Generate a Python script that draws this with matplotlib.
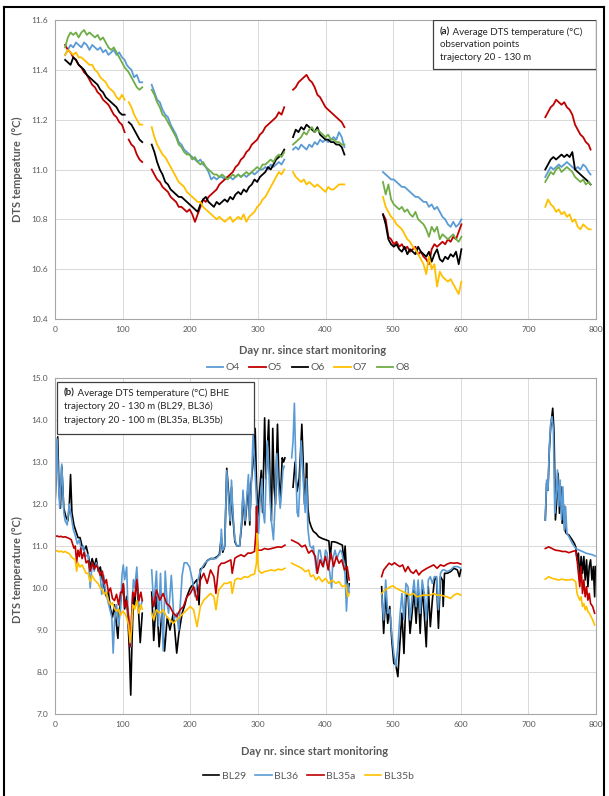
import numpy as np
import matplotlib
matplotlib.use("Agg")
import matplotlib.pyplot as plt
from matplotlib.lines import Line2D
from matplotlib.patches import Rectangle

plt.rcParams['font.family'] = ['Lato', 'DejaVu Sans']

# ---------------- Panel (a) data: observation points ----------------
days_a_segments = [
    np.r_[np.arange(15, 104, 4), 106, np.arange(109, 130, 4)],
    np.arange(143, 340, 4),
    np.arange(352, 429, 4),
    np.arange(485, 602, 4),
    np.r_[np.arange(725, 790, 4), 792],
]
nan = np.nan
o4 = [
    [11.46, 11.48, 11.50, 11.49, 11.51, 11.50, 11.49, 11.51, 11.50, 11.48, 11.50, 11.49, 11.48, 11.49, 11.47, 11.48,
     11.46, 11.47, 11.48, 11.46, 11.47, 11.45, 11.44, 11.42, 11.41, 11.40, 11.37, 11.38, 11.35, 11.35],
    [11.34, 11.31, 11.28, 11.27, 11.24, 11.22, 11.21, 11.18, 11.16, 11.14, 11.11, 11.10, 11.08, 11.07, 11.06, 11.05,
     11.04, 11.03, 11.04, 11.02, 11.01, 10.99, 10.96, 10.97, 10.96, 10.97, 10.97, 10.96, 10.97, 10.97, 10.96, 10.97,
     10.98, 10.97, 10.98, 10.97, 10.98, 10.99, 10.98, 10.99, 11.00, 11.00, 11.01, 11.00, 11.02, 11.01, 11.02, 11.03,
     11.02, 11.04],
    [11.08, 11.09, 11.08, 11.10, 11.09, 11.08, 11.10, 11.09, 11.11, 11.10, 11.12, 11.11, 11.12, 11.11, 11.12, 11.13,
     11.12, 11.15, 11.13, 11.09],
    [10.99, 10.98, 10.97, 10.96, 10.96, 10.95, 10.94, 10.93, 10.93, 10.92, 10.91, 10.90, 10.89, 10.89, 10.88, 10.87,
     10.87, 10.85, 10.86, 10.84, 10.85, 10.83, 10.81, 10.80, 10.78, 10.77, 10.79, 10.77, 10.78, 10.80],
    [10.97, 10.99, 11.01, 11.00, 11.01, 11.02, 11.01, 11.02, 11.03, 11.02, 11.01, 11.00, 11.01, 11.00, 11.02, 11.01,
     10.99, 10.98],
]
o5 = [
    [11.50, 11.48, 11.47, 11.45, 11.44, 11.42, 11.41, 11.39, 11.38, 11.36, 11.34, 11.33, 11.31, 11.30, 11.28, 11.27,
     11.26, 11.24, 11.22, 11.21, 11.19, 11.18, 11.15, nan, 11.12, 11.10, 11.09, 11.06, 11.04, 11.03],
    [11.00, 10.98, 10.96, 10.95, 10.93, 10.92, 10.91, 10.89, 10.88, 10.87, 10.85, 10.85, 10.84, 10.83, 10.84, 10.82,
     10.79, 10.82, 10.85, 10.88, 10.87, 10.89, 10.90, 10.91, 10.92, 10.94, 10.95, 10.96, 10.97, 10.98, 10.99, 11.01,
     11.02, 11.04, 11.05, 11.07, 11.08, 11.10, 11.11, 11.12, 11.14, 11.15, 11.17, 11.18, 11.19, 11.20, 11.21, 11.23,
     11.22, 11.25],
    [11.32, 11.33, 11.35, 11.36, 11.37, 11.38, 11.36, 11.35, 11.33, 11.30, 11.29, 11.27, 11.25, 11.24, 11.23, 11.22,
     11.21, 11.20, 11.19, 11.17],
    [10.82, 10.80, 10.73, 10.72, 10.70, 10.71, 10.69, 10.70, 10.68, 10.69, 10.67, 10.68, 10.69, 10.66, 10.67, 10.65,
     10.64, 10.62, 10.68, 10.70, 10.69, 10.70, 10.71, 10.70, 10.72, 10.71, 10.73, 10.72, 10.75, 10.78],
    [11.21, 11.23, 11.25, 11.26, 11.28, 11.27, 11.26, 11.27, 11.25, 11.24, 11.22, 11.18, 11.16, 11.14, 11.13, 11.11,
     11.10, 11.08],
]
o6 = [
    [11.44, 11.43, 11.42, 11.45, 11.44, 11.42, 11.41, 11.40, 11.38, 11.37, 11.36, 11.35, 11.34, 11.32, 11.31, 11.29,
     11.28, 11.27, 11.26, 11.25, 11.23, 11.22, 11.22, nan, 11.19, 11.18, 11.16, 11.14, 11.12, 11.11],
    [11.10, 11.07, 11.03, 11.00, 10.98, 10.95, 10.94, 10.92, 10.91, 10.90, 10.89, 10.89, 10.88, 10.87, 10.86, 10.85,
     10.84, 10.83, 10.86, 10.88, 10.89, 10.87, 10.86, 10.85, 10.87, 10.86, 10.87, 10.88, 10.87, 10.89, 10.88, 10.90,
     10.91, 10.90, 10.92, 10.91, 10.93, 10.94, 10.96, 10.95, 10.97, 10.98, 10.99, 11.01, 11.00, 11.02, 11.04, 11.05,
     11.06, 11.08],
    [11.13, 11.16, 11.15, 11.17, 11.16, 11.18, 11.17, 11.16, 11.15, 11.17, 11.14, 11.13, 11.12, 11.12, 11.11, 11.11,
     11.10, 11.10, 11.09, 11.06],
    [10.82, 10.78, 10.72, 10.70, 10.69, 10.70, 10.68, 10.67, 10.69, 10.66, 10.68, 10.67, 10.66, 10.69, 10.67, 10.66,
     10.65, 10.67, 10.63, 10.66, 10.68, 10.64, 10.63, 10.65, 10.64, 10.66, 10.65, 10.67, 10.62, 10.68],
    [11.00, 11.02, 11.04, 11.05, 11.04, 11.05, 11.06, 11.05, 11.06, 11.05, 11.07, 11.00, 10.99, 10.98, 10.97, 10.96,
     10.95, 10.94],
]
o7 = [
    [11.46, 11.48, 11.47, 11.46, 11.47, 11.45, 11.45, 11.44, 11.43, 11.42, 11.42, 11.40, 11.39, 11.37, 11.36, 11.35,
     11.33, 11.32, 11.31, 11.29, 11.28, 11.30, 11.28, nan, 11.27, 11.25, 11.22, 11.20, 11.18, 11.18],
    [11.17, 11.13, 11.10, 11.08, 11.06, 11.05, 11.03, 11.01, 10.99, 10.97, 10.95, 10.94, 10.93, 10.91, 10.90, 10.89,
     10.88, 10.87, 10.87, 10.85, 10.84, 10.83, 10.82, 10.81, 10.80, 10.81, 10.80, 10.79, 10.80, 10.81, 10.79, 10.80,
     10.81, 10.80, 10.82, 10.79, 10.81, 10.82, 10.83, 10.85, 10.86, 10.88, 10.89, 10.91, 10.93, 10.95, 10.97, 10.99,
     10.98, 11.00],
    [10.99, 10.97, 10.96, 10.95, 10.96, 10.94, 10.95, 10.94, 10.93, 10.94, 10.93, 10.92, 10.91, 10.93, 10.92, 10.92,
     10.93, 10.94, 10.94, 10.94],
    [10.89, 10.85, 10.83, 10.81, 10.80, 10.78, 10.77, 10.76, 10.74, 10.72, 10.71, 10.69, 10.68, 10.66, 10.64, 10.62,
     10.58, 10.65, 10.60, 10.62, 10.53, 10.59, 10.57, 10.56, 10.55, 10.56, 10.54, 10.52, 10.50, 10.55],
    [10.85, 10.88, 10.86, 10.85, 10.83, 10.84, 10.82, 10.83, 10.81, 10.82, 10.79, 10.80, 10.77, 10.76, 10.78, 10.77,
     10.76, 10.76],
]
o8 = [
    [11.49, 11.53, 11.55, 11.54, 11.55, 11.53, 11.55, 11.56, 11.54, 11.55, 11.54, 11.53, 11.54, 11.52, 11.53, 11.51,
     11.49, 11.48, 11.49, 11.47, 11.45, 11.43, 11.41, 11.40, 11.39, 11.37, 11.35, 11.33, 11.32, 11.33],
    [11.32, 11.30, 11.27, 11.25, 11.22, 11.21, 11.19, 11.17, 11.15, 11.13, 11.10, 11.09, 11.07, 11.06, 11.06, 11.04,
     11.05, 11.03, 11.02, 11.03, 11.01, 11.00, 10.99, 10.98, 10.98, 10.97, 10.98, 10.97, 10.96, 10.97, 10.98, 10.97,
     10.98, 10.97, 10.98, 10.99, 10.98, 10.99, 11.00, 11.01, 11.00, 11.02, 11.02, 11.03, 11.04, 11.03, 11.05, 11.06,
     11.05, 11.07],
    [11.10, 11.11, 11.12, 11.13, 11.15, 11.14, 11.16, 11.17, 11.15, 11.16, 11.15, 11.14, 11.13, 11.14, 11.12, 11.12,
     11.11, 11.11, 11.10, 11.10],
    [10.95, 10.90, 10.94, 10.88, 10.86, 10.85, 10.84, 10.85, 10.83, 10.84, 10.82, 10.81, 10.83, 10.80, 10.79, 10.78,
     10.76, 10.73, 10.77, 10.75, 10.77, 10.72, 10.74, 10.73, 10.72, 10.73, 10.74, 10.72, 10.71, 10.73],
    [10.95, 10.97, 10.99, 10.98, 11.00, 11.01, 10.99, 11.00, 11.01, 11.00, 10.99, 10.97, 10.96, 10.95, 10.96, 10.94,
     10.95, 10.94],
]
labels_a = ['O4', 'O5', 'O6', 'O7', 'O8']
colors_a = ['#5b9bd5', '#c00000', '#000000', '#ffc000', '#70ad47']

# ---------------- Panel (b) data: BHE (day, temperature) segments ----------------
bl29 = [
    [(0, 12.0), (2, 12.9), (4, 13.6), (6, 12.3), (8, 11.9), (10, 12.9), (13, 11.9), (16, 11.7), (19, 11.6), (21, 11.9),
     (23, 12.7), (25, 11.8), (28, 11.5), (31, 11.35), (34, 11.2), (37, 11.2), (40, 11.0), (43, 10.9), (46, 11.0),
     (49, 10.8), (52, 10.5), (55, 10.7), (58, 10.5), (61, 10.7), (64, 10.4), (67, 10.5), (70, 10.2), (73, 10.0),
     (76, 9.8), (79, 9.9), (82, 9.5), (85, 9.3), (88, 9.6), (91, 9.1), (93, 8.8), (95, 9.4), (98, 9.8), (101, 10.1),
     (103, 9.5), (106, 9.8), (108, 9.2), (110, 8.5), (112, 7.45), (114, 8.8), (116, 9.8), (118, 9.6), (121, 10.35),
     (124, 9.3), (126, 8.7), (129, 9.4)],
    [(143, 9.9), (146, 8.75), (150, 9.8), (154, 8.6), (158, 9.4), (162, 8.5), (166, 9.3), (170, 9.0), (175, 9.4),
     (180, 8.45), (183, 8.9), (188, 9.4), (192, 9.6), (195, 9.8), (200, 10.0), (205, 10.1), (210, 10.2), (213, 9.6),
     (215, 10.45), (220, 10.5), (225, 10.65), (230, 10.7), (235, 10.7), (240, 10.75), (243, 10.8), (246, 11.2),
     (248, 10.85), (251, 11.0), (254, 12.85), (257, 12.2), (259, 11.5), (261, 12.4), (263, 11.7), (266, 11.1),
     (269, 11.0), (273, 11.0), (276, 11.5), (278, 12.2), (281, 11.5), (283, 11.9), (286, 12.5), (288, 11.5),
     (290, 12.5), (293, 13.0), (296, 13.8), (298, 12.5), (300, 11.7), (302, 12.2), (305, 12.8), (307, 11.8),
     (310, 14.05), (312, 12.6), (314, 13.3), (316, 14.0), (318, 12.5), (320, 11.6), (322, 13.8), (324, 12.4),
     (326, 12.0), (329, 13.9), (331, 12.6), (333, 12.0), (336, 13.1), (338, 13.0), (340, 13.1)],
    [(352, 12.4), (355, 13.0), (358, 12.3), (361, 12.6), (363, 13.2), (365, 13.9), (367, 13.0), (369, 12.0),
     (371, 12.5), (372, 12.97), (374, 11.9), (376, 11.6), (379, 11.45), (382, 11.35), (386, 11.3), (390, 11.22),
     (395, 11.18), (400, 11.15), (405, 11.12), (407, 10.7), (409, 11.1), (413, 11.1), (417, 11.08), (421, 11.05),
     (425, 11.02), (427, 10.6), (429, 11.0), (431, 10.4), (433, 9.9), (435, 10.1)],
    [(483, 10.03), (486, 8.92), (489, 9.87), (492, 9.16), (495, 9.56), (498, 8.76), (501, 8.21), (504, 8.17),
     (507, 7.89), (510, 8.68), (513, 9.40), (516, 8.44), (519, 9.79), (522, 9.87), (525, 8.92), (528, 9.40),
     (531, 9.95), (534, 9.16), (537, 10.03), (540, 8.92), (543, 10.03), (546, 9.40), (549, 8.60), (552, 10.03),
     (555, 9.08), (558, 9.71), (561, 10.19), (564, 10.27), (567, 9.04), (570, 10.27), (573, 10.19), (574, 9.56),
     (576, 10.35), (580, 10.35), (585, 10.39), (590, 10.47), (595, 10.43), (598, 10.27), (600, 10.43)],
    [(725, 11.62), (727, 12.49), (729, 12.33), (731, 13.29), (733, 13.84), (736, 14.28), (738, 13.68), (740, 11.62),
     (742, 12.10), (744, 12.73), (746, 11.78), (748, 12.41), (750, 11.54), (752, 11.98), (754, 11.38), (756, 11.30),
     (760, 11.26), (765, 11.14), (768, 11.06), (770, 10.98), (772, 10.67), (774, 10.83), (776, 10.19), (778, 10.75),
     (780, 10.35), (782, 10.75), (784, 10.19), (786, 10.67), (788, 10.03), (790, 10.51), (792, 10.67), (794, 10.19),
     (796, 10.51), (798, 9.79), (799, 10.51)],
]
bl36 = [
    [(0, 11.9), (2, 12.8), (3, 13.55), (5, 12.6), (7, 11.9), (10, 12.95), (13, 11.8), (15, 11.6), (18, 11.5),
     (21, 12.0), (24, 11.7), (27, 11.4), (30, 11.25), (33, 11.05), (36, 11.15), (39, 10.9), (42, 11.0), (45, 10.75),
     (49, 10.8), (52, 10.0), (55, 10.6), (58, 10.4), (61, 10.6), (64, 10.45), (67, 10.3), (69, 9.85), (72, 10.3),
     (75, 9.9), (78, 9.7), (81, 9.5), (84, 9.3), (86, 8.45), (88, 9.2), (91, 9.6), (94, 9.1), (97, 9.5), (99, 10.3),
     (101, 10.55), (103, 10.2), (106, 10.5), (108, 9.4), (110, 9.0), (112, 8.6), (114, 9.6), (116, 10.2), (118, 10.0),
     (121, 10.5), (124, 9.6), (126, 9.5), (129, 9.7)],
    [(143, 10.43), (146, 9.55), (150, 10.4), (153, 9.1), (156, 10.35), (160, 8.5), (163, 10.4), (166, 9.6),
     (168, 9.4), (172, 10.3), (176, 9.25), (180, 9.4), (183, 9.0), (185, 9.55), (188, 10.3), (191, 10.6), (195, 10.6),
     (199, 10.5), (203, 10.2), (207, 9.8), (210, 10.1), (214, 10.35), (218, 10.5), (222, 10.6), (226, 10.65),
     (230, 10.7), (234, 10.7), (238, 10.7), (241, 10.75), (244, 10.8), (246, 11.4), (248, 10.9), (251, 11.0),
     (254, 12.8), (257, 12.0), (259, 11.6), (261, 12.57), (263, 11.8), (266, 11.15), (269, 11.0), (273, 11.0),
     (276, 11.6), (278, 12.33), (281, 11.6), (283, 12.0), (286, 12.7), (288, 11.6), (290, 12.3), (293, 13.7),
     (295, 13.0), (297, 12.4), (299, 11.8), (301, 11.3), (303, 12.0), (306, 12.6), (308, 11.8), (310, 11.55),
     (312, 12.5), (314, 13.5), (316, 12.9), (318, 12.1), (320, 11.6), (323, 11.15), (326, 12.2), (328, 13.2),
     (330, 12.5), (333, 11.9), (335, 12.3), (337, 12.8), (339, 12.9)],
    [(350, 13.1), (352, 13.5), (354, 14.4), (356, 13.0), (358, 11.8), (360, 11.7), (362, 12.4), (364, 13.5),
     (366, 12.9), (368, 12.3), (370, 11.8), (372, 12.6), (374, 11.4), (377, 11.0), (380, 10.95), (382, 11.0),
     (385, 10.6), (387, 10.35), (390, 10.9), (392, 10.9), (395, 10.6), (397, 10.5), (400, 10.9), (402, 10.85),
     (406, 10.4), (409, 10.0), (411, 10.7), (414, 10.9), (417, 10.7), (419, 10.8), (422, 10.9), (424, 10.85),
     (427, 10.6), (429, 10.3), (431, 9.45), (433, 10.1), (435, 9.9)],
    [(483, 9.87), (486, 9.24), (489, 10.19), (492, 9.40), (495, 9.48), (498, 8.92), (501, 8.44), (504, 8.13),
     (507, 8.60), (510, 9.32), (513, 9.87), (516, 9.24), (519, 10.11), (522, 10.03), (525, 9.24), (528, 9.79),
     (531, 10.19), (534, 9.56), (537, 10.19), (540, 9.40), (543, 10.19), (546, 9.87), (549, 9.24), (552, 10.19),
     (555, 10.27), (558, 10.11), (561, 10.27), (564, 10.27), (567, 9.48), (570, 10.35), (573, 10.43), (576, 10.43),
     (580, 10.39), (585, 10.43), (590, 10.51), (595, 10.51), (600, 10.47)],
    [(725, 11.62), (727, 12.57), (729, 12.33), (731, 13.37), (733, 13.92), (735, 14.08), (737, 13.76), (739, 11.78),
     (741, 12.17), (743, 12.81), (745, 11.94), (747, 12.57), (749, 11.62), (751, 12.41), (753, 11.38), (755, 11.94),
     (757, 11.30), (760, 11.22), (765, 11.06), (770, 10.94), (775, 10.90), (780, 10.87), (785, 10.83), (790, 10.81),
     (795, 10.79), (799, 10.76)],
]
bl35a = [
    [(0, 11.22), (3, 11.24), (6, 11.22), (9, 11.23), (12, 11.21), (15, 11.22), (18, 11.20), (21, 11.18), (24, 11.15),
     (26, 11.05), (28, 10.95), (30, 11.0), (32, 10.6), (34, 10.9), (36, 10.75), (38, 10.95), (40, 10.7), (43, 10.85),
     (46, 10.6), (49, 10.65), (52, 10.4), (55, 10.6), (58, 10.45), (61, 10.55), (64, 10.45), (67, 10.3), (70, 10.4),
     (73, 10.1), (76, 10.2), (79, 9.9), (82, 10.0), (85, 9.75), (88, 9.7), (91, 9.85), (94, 9.6), (97, 9.9),
     (99, 9.9), (101, 10.1), (103, 9.55), (106, 9.7), (109, 9.3), (111, 8.6), (113, 9.2), (115, 9.9), (118, 9.8),
     (121, 10.2), (124, 9.7), (127, 9.9), (129, 9.7)],
    [(143, 9.79), (146, 9.56), (150, 9.95), (155, 9.71), (160, 9.87), (165, 9.63), (170, 9.56), (175, 9.40),
     (180, 9.32), (185, 9.48), (190, 9.56), (195, 9.79), (200, 9.87), (205, 10.03), (210, 9.71), (215, 10.19),
     (220, 10.35), (225, 10.11), (230, 10.43), (235, 10.27), (238, 9.87), (242, 10.51), (246, 10.59), (250, 10.59),
     (255, 10.63), (260, 10.67), (262, 10.35), (266, 10.71), (270, 10.75), (275, 10.79), (280, 10.75), (285, 10.83),
     (290, 10.83), (295, 10.87), (297, 11.3), (298, 11.95), (299, 11.2), (300, 10.90), (305, 10.90), (310, 10.94),
     (315, 10.92), (320, 10.94), (325, 10.96), (330, 10.98), (335, 10.97), (340, 11.02)],
    [(350, 11.14), (355, 11.10), (360, 11.06), (365, 10.98), (370, 11.02), (375, 10.83), (380, 10.90), (385, 10.75),
     (388, 10.35), (392, 10.67), (396, 10.51), (400, 10.75), (404, 10.43), (408, 10.83), (412, 10.51), (416, 10.75),
     (420, 10.59), (424, 10.67), (428, 10.43), (432, 10.51), (435, 10.19)],
    [(483, 10.27), (486, 10.43), (490, 10.51), (494, 10.59), (498, 10.55), (502, 10.60), (506, 10.55), (510, 10.51),
     (514, 10.55), (518, 10.39), (522, 10.51), (526, 10.39), (530, 10.35), (534, 10.43), (538, 10.31), (542, 10.39),
     (546, 10.43), (550, 10.47), (555, 10.51), (560, 10.55), (565, 10.47), (570, 10.55), (575, 10.52), (580, 10.57),
     (585, 10.60), (590, 10.59), (595, 10.60), (600, 10.57)],
    [(725, 10.94), (730, 10.98), (735, 10.94), (740, 10.90), (745, 10.89), (750, 10.87), (755, 10.87), (760, 10.84),
     (765, 10.87), (770, 10.89), (772, 10.67), (774, 10.35), (776, 10.03), (778, 10.51), (780, 9.87), (782, 10.19),
     (784, 9.79), (786, 10.03), (788, 9.71), (790, 9.87), (792, 9.63), (795, 9.56), (798, 9.40)],
]
bl35b = [
    [(0, 10.87), (3, 10.89), (6, 10.86), (9, 10.88), (12, 10.85), (15, 10.87), (18, 10.84), (21, 10.82), (24, 10.75),
     (27, 10.7), (30, 10.67), (32, 10.4), (34, 10.6), (37, 10.5), (40, 10.55), (43, 10.45), (46, 10.35), (49, 10.35),
     (52, 10.15), (55, 10.3), (58, 10.2), (61, 10.15), (64, 10.1), (67, 10.0), (70, 9.95), (73, 9.85), (76, 9.9),
     (79, 9.7), (82, 9.6), (85, 9.65), (88, 9.5), (91, 9.45), (94, 9.5), (97, 9.35), (100, 9.45), (103, 9.4),
     (106, 9.3), (109, 9.1), (111, 8.7), (113, 9.0), (115, 9.6), (118, 9.5), (121, 9.7), (124, 9.4), (127, 9.6),
     (129, 9.5)],
    [(143, 9.40), (146, 9.24), (150, 9.48), (155, 9.40), (160, 9.48), (165, 9.32), (170, 9.24), (175, 9.16),
     (180, 9.24), (185, 9.32), (190, 9.40), (195, 9.48), (200, 9.56), (205, 9.48), (210, 9.08), (215, 9.56),
     (220, 9.71), (225, 9.79), (230, 9.87), (235, 9.79), (238, 9.48), (242, 9.95), (246, 10.03), (250, 10.11),
     (255, 10.11), (260, 10.15), (262, 9.87), (266, 10.19), (270, 10.23), (275, 10.21), (280, 10.27), (285, 10.25),
     (290, 10.31), (295, 10.33), (298, 10.6), (299, 11.30), (300, 10.7), (301, 10.43), (305, 10.35), (310, 10.39),
     (315, 10.41), (320, 10.43), (325, 10.41), (330, 10.45), (335, 10.43), (340, 10.47)],
    [(350, 10.59), (355, 10.55), (360, 10.51), (365, 10.47), (370, 10.39), (375, 10.43), (378, 10.27), (382, 10.31),
     (386, 10.19), (390, 10.27), (395, 10.15), (400, 10.23), (405, 10.11), (410, 10.19), (415, 10.11), (420, 10.15),
     (425, 10.03), (430, 10.07), (433, 9.79), (435, 9.87)],
    [(483, 9.87), (488, 9.95), (492, 9.99), (496, 10.03), (500, 10.05), (505, 9.99), (510, 9.95), (515, 9.91),
     (520, 9.87), (525, 9.83), (530, 9.87), (535, 9.79), (540, 9.81), (545, 9.83), (550, 9.83), (555, 9.83),
     (560, 9.87), (565, 9.83), (570, 9.83), (575, 9.81), (580, 9.79), (585, 9.75), (590, 9.83), (595, 9.87),
     (600, 9.83)],
    [(725, 10.21), (730, 10.27), (735, 10.23), (740, 10.21), (745, 10.19), (750, 10.21), (755, 10.19), (760, 10.19),
     (765, 10.21), (770, 10.15), (772, 9.87), (774, 9.79), (776, 9.71), (778, 9.79), (780, 9.56), (782, 9.63),
     (784, 9.48), (786, 9.56), (788, 9.44), (790, 9.40), (794, 9.28), (798, 9.12)],
]
labels_b = ['BL29', 'BL36', 'BL35a', 'BL35b']
colors_b = ['#000000', '#5b9bd5', '#c00000', '#ffc000']


def join_segments(days_segs, val_segs):
    xs, ys = [], []
    for d, v in zip(days_segs, val_segs):
        xs.extend(list(d)); ys.extend(list(v))
        xs.append(np.nan); ys.append(np.nan)
    return np.array(xs, float), np.array(ys, float)


def join_pairs(segs):
    xs, ys = [], []
    for seg in segs:
        for d, v in seg:
            xs.append(d); ys.append(v)
        xs.append(np.nan); ys.append(np.nan)
    return np.array(xs, float), np.array(ys, float)


W, H = 609, 796
fig = plt.figure(figsize=(W / 100, H / 100), dpi=100)
fig.patch.set_facecolor('white')

TXT = '#595959'
GRID = '#d9d9d9'


def style_axes(ax):
    ax.set_xlim(0, 800)
    ax.set_xticks(np.arange(0, 801, 100))
    ax.grid(True, color=GRID, lw=0.7)
    ax.set_axisbelow(True)
    ax.tick_params(length=0, labelsize=6, labelcolor=TXT, pad=5)
    for s in ax.spines.values():
        s.set_color('#a6a6a6')
        s.set_linewidth(0.8)


def ax_rect(left, top, right, bottom):
    return [left / W, 1 - bottom / H, (right - left) / W, (bottom - top) / H]


# ---------- panel (a) ----------
axa = fig.add_axes(ax_rect(55, 20, 596, 319))
style_axes(axa)
axa.set_ylim(10.4, 11.6)
axa.set_yticks(np.arange(10.4, 11.61, 0.2))
axa.yaxis.set_major_formatter(matplotlib.ticker.FormatStrFormatter('%.1f'))
for lab, col, vals in zip(labels_a, colors_a, [o4, o5, o6, o7, o8]):
    x, y = join_segments(days_a_segments, vals)
    axa.plot(x, y, color=col, lw=1.3, label=lab)
axa.set_xlabel('Day nr. since start monitoring', fontsize=8, fontweight='bold', color=TXT)
axa.xaxis.set_label_coords(0.477, -0.088)
axa.set_ylabel('DTS tempeature  (°C)', fontsize=8, fontweight='bold', color=TXT)
axa.yaxis.set_label_coords(-0.06, 0.5)
leg = axa.legend(loc='center', bbox_to_anchor=(0.468, -0.163), ncol=5, frameon=False, fontsize=7.5,
                 handlelength=1.6, handletextpad=0.2, columnspacing=0.9, labelcolor=TXT)

# text box (a)
axa.add_patch(Rectangle((0.699, 0.836), 0.301, 0.164, transform=axa.transAxes, fill=True, facecolor='white',
                        edgecolor='#404040', lw=0.9, zorder=5))
t1 = axa.text(0.711, 0.96, '(a)', transform=axa.transAxes, fontsize=7, fontweight='bold', color='#262626',
              va='center', ha='left', zorder=6)
axa.annotate(' Average DTS temperature (°C)', xy=(1, 0.5), xycoords=t1, va='center', ha='left', fontsize=7,
             color='#262626', zorder=6)
axa.text(0.711, 0.917, 'observation points', transform=axa.transAxes, fontsize=7, color='#262626',
         va='center', ha='left', zorder=6)
axa.text(0.711, 0.873, 'trajectory 20 - 130 m', transform=axa.transAxes, fontsize=7, color='#262626',
         va='center', ha='left', zorder=6)

# ---------- panel (b) ----------
axb = fig.add_axes(ax_rect(55, 378, 596, 714))
style_axes(axb)
axb.set_ylim(7.0, 15.0)
axb.set_yticks(np.arange(7, 15.1, 1.0))
axb.yaxis.set_major_formatter(matplotlib.ticker.FormatStrFormatter('%.1f'))
for lab, col, segs in zip(labels_b, colors_b, [bl29, bl36, bl35a, bl35b]):
    x, y = join_pairs(segs)
    axb.plot(x, y, color=col, lw=1.2, label=lab)
axb.set_xlabel('Day nr. since start monitoring', fontsize=8, fontweight='bold', color=TXT)
axb.xaxis.set_label_coords(0.48, -0.095)
axb.set_ylabel('DTS temperature (°C)', fontsize=8, fontweight='bold', color=TXT)
axb.yaxis.set_label_coords(-0.06, 0.43)
axb.legend(loc='center', bbox_to_anchor=(0.468, -0.185), ncol=4, frameon=False, fontsize=7.5,
           handlelength=1.6, handletextpad=0.2, columnspacing=0.9, labelcolor=TXT)

bx0 = (57 - 55) / 541
bx1 = (254 - 55) / 541
by1 = 1 - (382 - 378) / 336
by0 = 1 - (434 - 378) / 336
axb.add_patch(Rectangle((bx0, by0), bx1 - bx0, by1 - by0, transform=axb.transAxes, facecolor='white',
                        edgecolor='#404040', lw=0.9, zorder=5))
tx = (64 - 55) / 541
t2 = axb.text(tx, 1 - (393 - 378) / 336, '(b)', transform=axb.transAxes, fontsize=7, fontweight='bold',
              color='#262626', va='center', ha='left', zorder=6)
axb.annotate(' Average DTS temperature (°C) BHE', xy=(1, 0.5), xycoords=t2, va='center', ha='left', fontsize=7,
             color='#262626', zorder=6)
axb.text(tx, 1 - (406 - 378) / 336, 'trajectory 20 - 130 m (BL29, BL36)', transform=axb.transAxes, fontsize=7,
         color='#262626', va='center', ha='left', zorder=6)
axb.text(tx, 1 - (420 - 378) / 336, 'trajectory 20 - 100 m (BL35a, BL35b)', transform=axb.transAxes, fontsize=7,
         color='#262626', va='center', ha='left', zorder=6)

# outer frame
for xs, ys in [((4 / W, 4 / W), (0, 1 - 7 / H)), ((4 / W, 604 / W), (1 - 7 / H, 1 - 7 / H)),
               ((604 / W, 604 / W), (1 - 7 / H, 0))]:
    fig.add_artist(Line2D(xs, ys, transform=fig.transFigure, color='black', lw=1.5))

fig.savefig('out.png', dpi=100, facecolor='white')
